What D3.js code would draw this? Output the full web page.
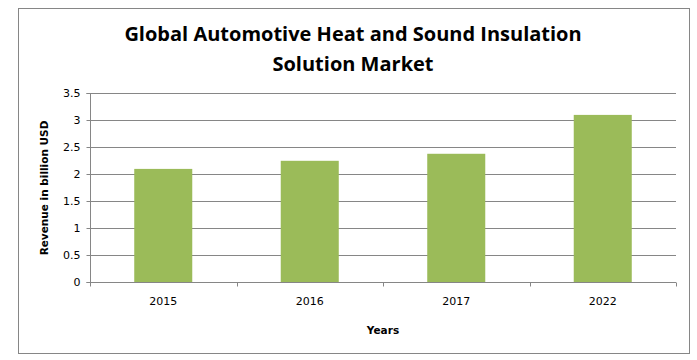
<!DOCTYPE html>
<html><head><meta charset="utf-8">
<script src="https://cdn.jsdelivr.net/npm/d3@7"></script>
<style>body{margin:0;background:#fff}svg{display:block}</style>
</head><body>
<svg id="c" width="697" height="360"></svg>
<script>
const categories = ["2015", "2016", "2017", "2022"];
const values = [2.1, 2.25, 2.38, 3.1];
const yTicks = [0, 0.5, 1, 1.5, 2, 2.5, 3, 3.5];
const titleLines = ["Global Automotive Heat and Sound Insulation", "Solution Market"];
const yTitle = "Revenue in billion USD";
const xTitle = "Years";

const svg = d3.select("#c");
const m = {left: 90, right: 676, top: 93.3, bottom: 282.3};
const grey = "#868686";

svg.append("rect").attr("x", 18.5).attr("y", 8.5).attr("width", 671).attr("height", 345)
  .attr("fill", "#fff").attr("stroke", grey).attr("stroke-width", 1);

const x = d3.scaleBand().domain(categories).range([m.left, m.right]).paddingInner(0).paddingOuter(0);
const y = d3.scaleLinear().domain([0, 3.5]).range([m.bottom, m.top]);

// gridlines
svg.append("g").selectAll("line").data(yTicks.filter(d => d > 0)).join("line")
  .attr("x1", m.left).attr("x2", m.right)
  .attr("y1", d => Math.round(y(d)) + 0.5).attr("y2", d => Math.round(y(d)) + 0.5)
  .attr("stroke", grey).attr("stroke-width", 1);

// bars
const bw = x.bandwidth() * 0.396;
svg.append("g").selectAll("rect").data(categories).join("rect")
  .attr("x", (d) => x(d) + (x.bandwidth() - bw) / 2)
  .attr("width", bw)
  .attr("y", (d, i) => y(values[i]))
  .attr("height", (d, i) => y(0) - y(values[i]))
  .attr("fill", "#9BBB59");

// y axis
const ya = d3.axisLeft(y).tickValues(yTicks).tickSize(4).tickPadding(6).tickFormat(d => String(d));
const gy = svg.append("g").attr("transform", `translate(${m.left + 0.5},0.5)`).call(ya);
gy.select(".domain").attr("stroke", grey).attr("d", `M-4,${Math.round(m.top)}H0V${Math.round(m.bottom)}H-4`);
gy.selectAll(".tick").attr("transform", d => `translate(0,${Math.round(y(d))})`);
gy.selectAll(".tick line").attr("stroke", grey);
gy.selectAll("text").attr("font-family", "Verdana, 'DejaVu Sans', sans-serif").attr("font-size", 11).attr("fill", "#000");

// x axis
const gx = svg.append("g").attr("transform", `translate(0,${Math.round(m.bottom) + 0.5})`);
gx.append("line").attr("x1", m.left).attr("x2", m.right).attr("stroke", grey);
const bounds = categories.map(c => x(c)).concat([m.right]);
gx.selectAll("line.t").data(bounds).join("line").attr("class", "t")
  .attr("x1", d => Math.round(d) + 0.5).attr("x2", d => Math.round(d) + 0.5)
  .attr("y1", 0).attr("y2", 4).attr("stroke", grey);
gx.selectAll("text").data(categories).join("text")
  .attr("x", d => x(d) + x.bandwidth() / 2).attr("y", 22)
  .attr("text-anchor", "middle")
  .attr("font-family", "Verdana, 'DejaVu Sans', sans-serif").attr("font-size", 11).attr("fill", "#000")
  .text(d => d);

// title
svg.append("g").selectAll("text").data(titleLines).join("text")
  .attr("x", 353).attr("y", (d, i) => 41 + i * 30)
  .attr("text-anchor", "middle")
  .attr("font-family", "'Open Sans', sans-serif").attr("font-weight", "bold").attr("font-size", 20)
  .attr("fill", "#000")
  .text(d => d);

// axis titles
svg.append("text").attr("transform", `translate(48,188) rotate(-90)`)
  .attr("text-anchor", "middle")
  .attr("font-family", "Verdana, 'DejaVu Sans', sans-serif").attr("font-weight", "bold").attr("font-size", 10.5)
  .text(yTitle);
svg.append("text").attr("x", 383).attr("y", 334)
  .attr("text-anchor", "middle")
  .attr("font-family", "Verdana, 'DejaVu Sans', sans-serif").attr("font-weight", "bold").attr("font-size", 10.5)
  .text(xTitle);
</script>
</body></html>
